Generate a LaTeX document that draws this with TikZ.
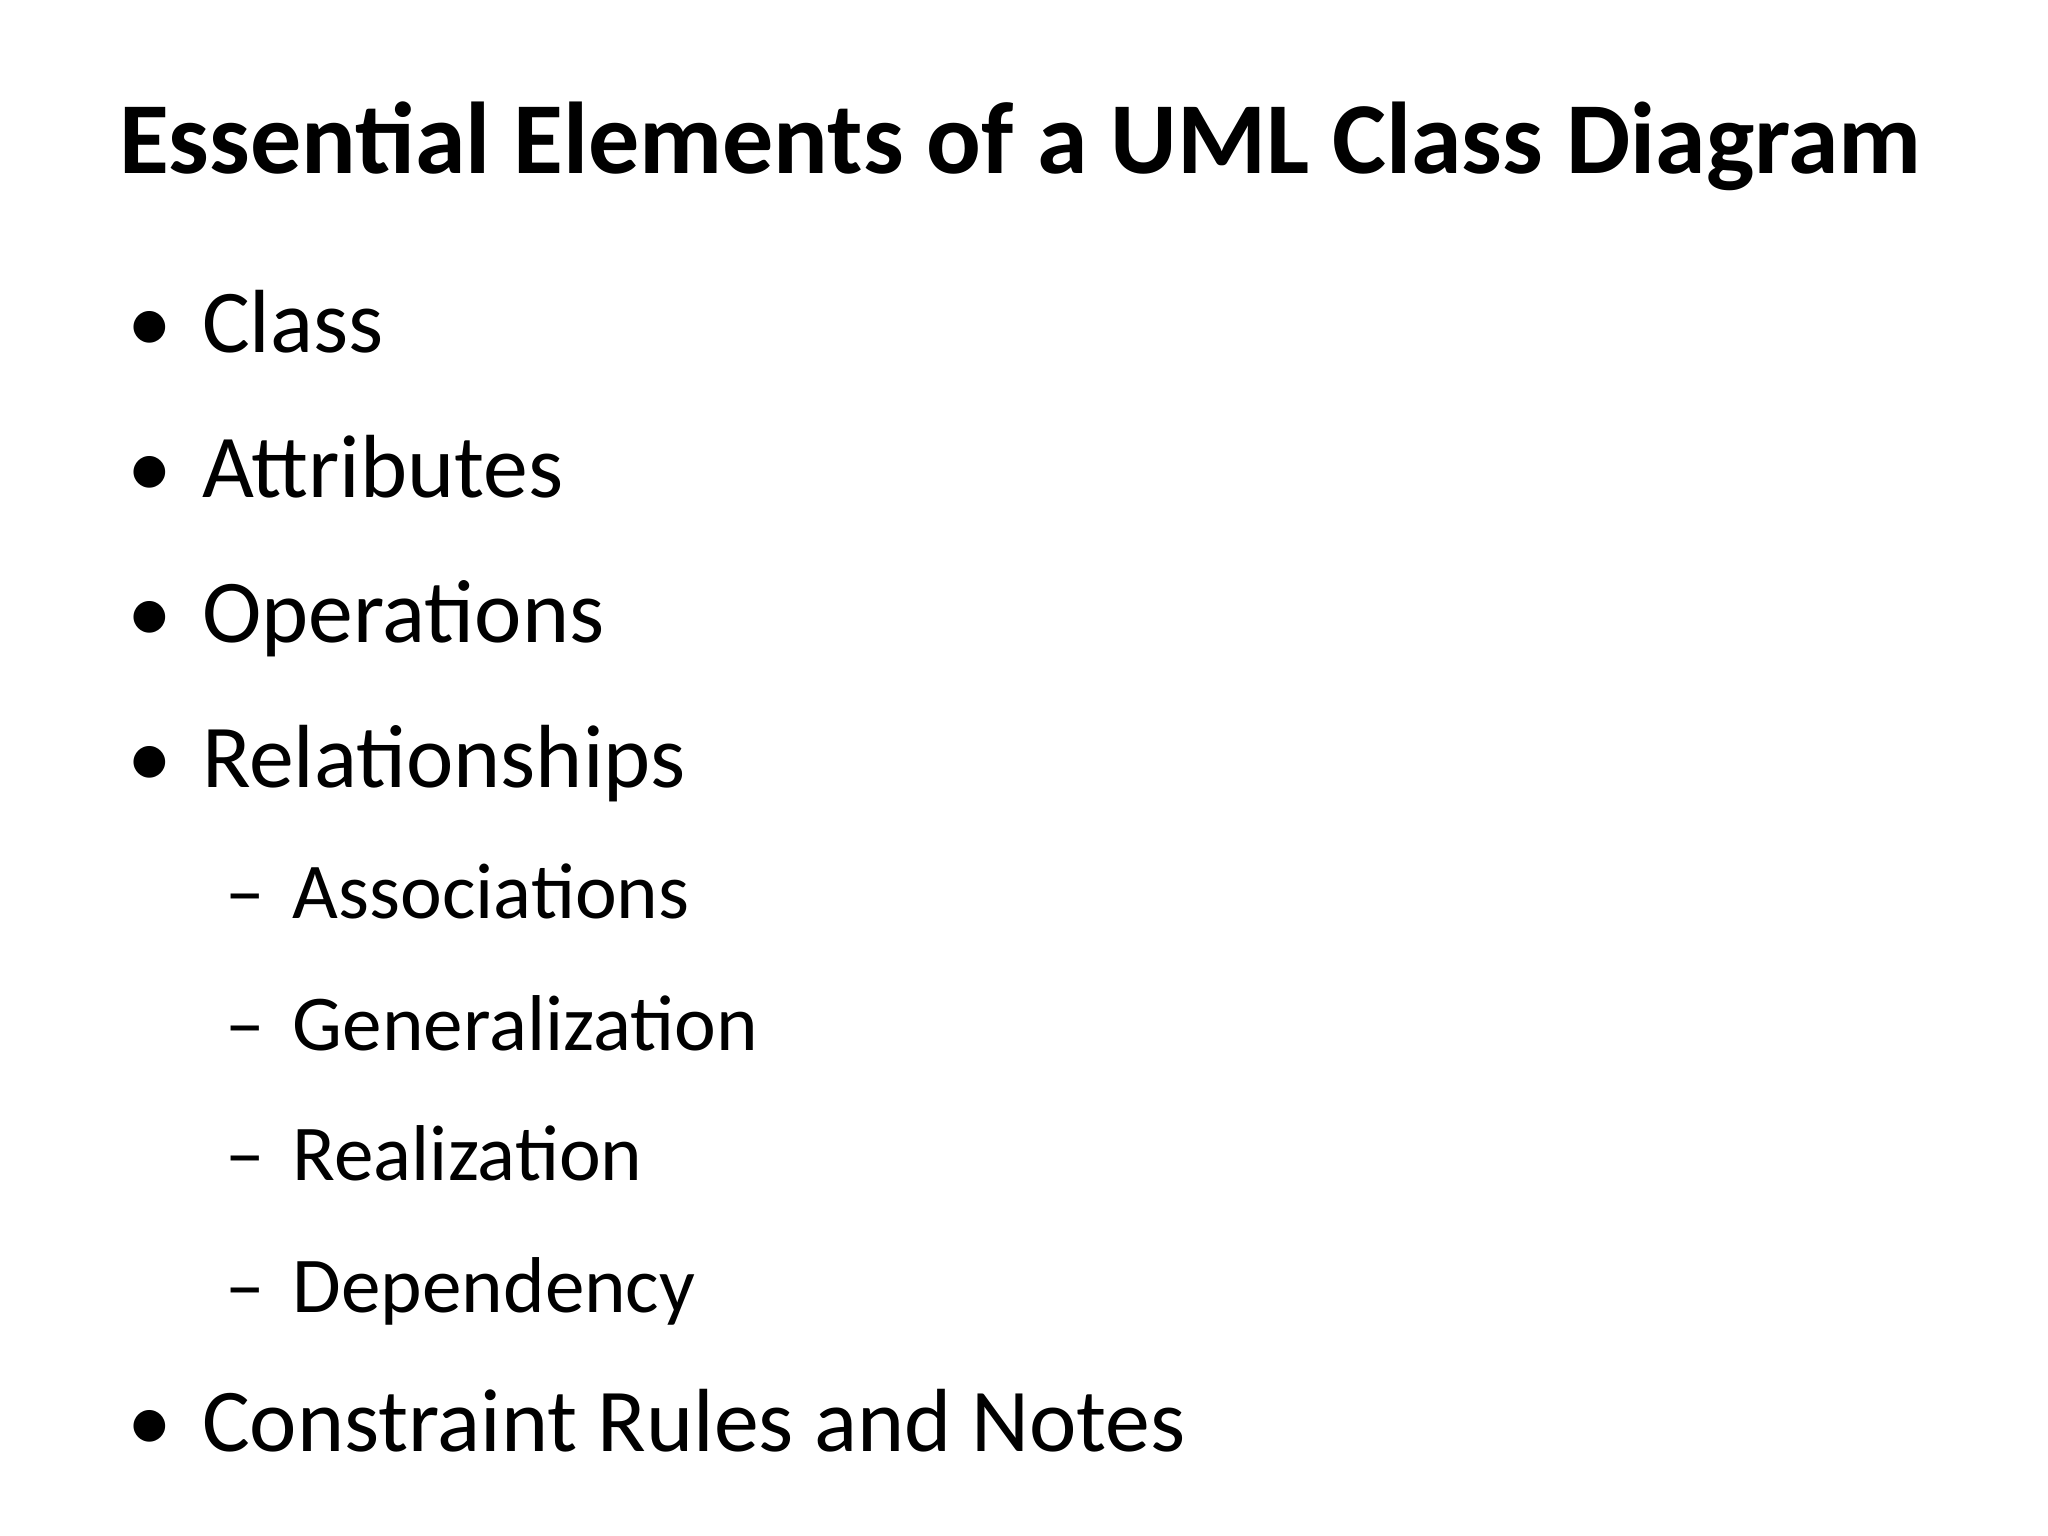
\documentclass[tikz,border=0pt]{standalone}
\usepackage{fontspec}
\setmainfont{Carlito}
\begin{document}
\begin{tikzpicture}[x=0.01316cm,y=-0.01316cm,
  title/.style={anchor=base west,inner sep=0,font=\fontsize{29pt}{34pt}\selectfont\bfseries},
  item/.style={anchor=base west,inner sep=0,font=\fontsize{25.5pt}{30pt}\selectfont},
  subitem/.style={anchor=base west,inner sep=0,font=\fontsize{22.5pt}{27pt}\selectfont}]
\useasboundingbox[fill=white] (0,0) rectangle (1556,1167);
\node[title] (t) at (90,132) {Essential Elements of a UML Class Diagram};
\foreach \n/\y/\s in {a/268/Class,b/378/Attributes,c/488/Operations,d/598/Relationships,e/1103/Constraint Rules and Notes}{
  \node[item] (b\n) at (96,\y) {•};
  \node[item] (i\n) at (153,\y) {\s};
}
\foreach \n/\y/\s in {f/698/Associations,g/798/Generalization,h/897/Realization,k/997/Dependency}{
  \node[subitem] (d\n) at (171,\y) {–};
  \node[subitem] (s\n) at (222,\y) {\s};
}
\end{tikzpicture}
\end{document}
